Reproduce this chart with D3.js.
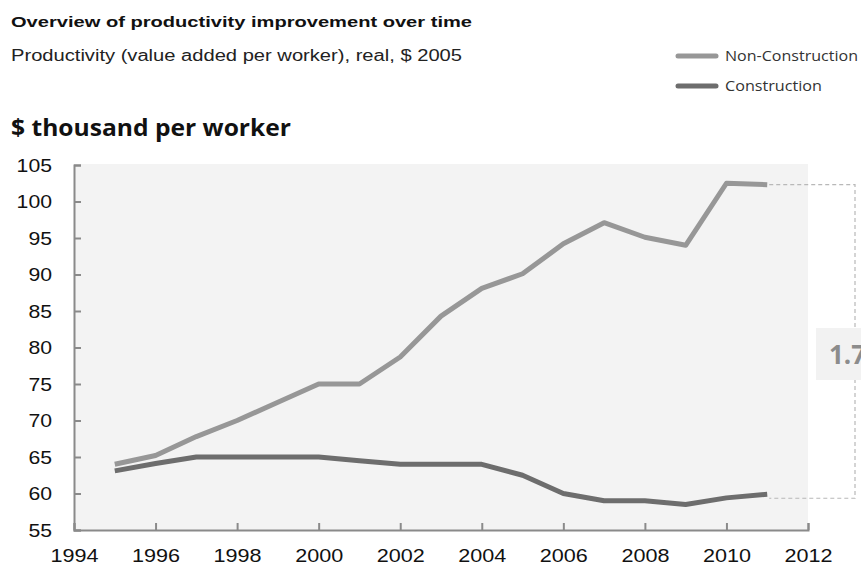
<!DOCTYPE html>
<html>
<head>
<meta charset="utf-8">
<script src="https://cdn.jsdelivr.net/npm/d3@7"></script>
<style>
  body { margin: 0; background: #fff; }
  svg { display: block; }
</style>
</head>
<body>
<div id="chart"></div>
<script>
// data
const years = [1995, 1996, 1997, 1998, 1999, 2000, 2001, 2002, 2003, 2004, 2005, 2006, 2007, 2008, 2009, 2010, 2011];
const nonConstruction = [64, 65.2, 67.8, 70, 72.5, 75, 75, 78.7, 84.3, 88.1, 90.1, 94.2, 97.1, 95.1, 94, 102.5, 102.3];
const construction = [63.1, 64.1, 65, 65, 65, 65, 64.5, 64, 64, 64, 62.5, 60, 59, 59, 58.5, 59.4, 59.9];
const xTicks = [1994, 1996, 1998, 2000, 2002, 2004, 2006, 2008, 2010, 2012];
const yTicks = [55, 60, 65, 70, 75, 80, 85, 90, 95, 100, 105];
const seriesNames = ["Non-Construction", "Construction"];
const ratioLabel = "1.7x";

const width = 861, height = 567;
const colors = {"Non-Construction": "#979797", "Construction": "#6d6d6d"};
const legendWidths = {"Non-Construction": 133, "Construction": 97};

const svg = d3.select("#chart").append("svg")
    .attr("width", width)
    .attr("height", height);

const x = d3.scaleLinear().domain([1994, 2012]).range([74, 808]);
const y = d3.scaleLinear().domain([55, 105]).range([530, 165]);

// titles (the original is a little stretched sideways, so fix their widths)
svg.append("text")
    .attr("x", 11).attr("y", 27)
    .attr("textLength", 461).attr("lengthAdjust", "spacingAndGlyphs")
    .style("font-family", "Liberation Sans, Arial, sans-serif")
    .style("font-size", "15px").style("font-weight", "bold")
    .attr("fill", "#111")
    .text("Overview of productivity improvement over time");
svg.append("text")
    .attr("x", 11).attr("y", 61)
    .attr("textLength", 451).attr("lengthAdjust", "spacingAndGlyphs")
    .style("font-family", "Liberation Sans, Arial, sans-serif")
    .style("font-size", "16px")
    .attr("fill", "#222")
    .text("Productivity (value added per worker), real, $ 2005");
svg.append("text")
    .attr("x", 11).attr("y", 136)
    .attr("textLength", 280).attr("lengthAdjust", "spacingAndGlyphs")
    .style("font-family", "Open Sans, sans-serif")
    .style("font-size", "24px").style("font-weight", "bold")
    .attr("fill", "#111")
    .text("$ thousand per worker");

// plot background
svg.append("rect")
    .attr("x", x(1994)).attr("y", y(105) - 1)
    .attr("width", x(2012) - x(1994)).attr("height", y(55) - y(105) + 1)
    .attr("fill", "#f3f3f3");

// axes
const yAxis = svg.append("g")
    .attr("transform", `translate(${x(1994)},0)`)
    .call(d3.axisLeft(y).tickValues(yTicks).tickSize(-7).tickPadding(22));
const xAxis = svg.append("g")
    .attr("transform", `translate(0,${y(55)})`)
    .call(d3.axisBottom(x).tickValues(xTicks).tickFormat(d3.format("d")).tickSize(-7).tickPadding(19));
[xAxis, yAxis].forEach(a => {
  a.selectAll("path, line").attr("stroke", "#8a8a8a").attr("stroke-width", 2);
  a.selectAll("text")
      .style("font-family", "Liberation Sans, Arial, sans-serif")
      .style("font-size", "19px")
      .attr("fill", "#111");
});
xAxis.selectAll("text").attr("textLength", 48).attr("lengthAdjust", "spacingAndGlyphs");
yAxis.selectAll("text").attr("textLength", d => String(d).length * 11.8).attr("lengthAdjust", "spacingAndGlyphs");

// dashed bracket comparing the last values
const last = years.length - 1;
const bx = 855;
svg.append("path")
    .attr("d", `M${x(years[last]) + 2},${y(nonConstruction[last])} H${bx} V${y(construction[last]) + 4} H${x(years[last]) + 2}`)
    .attr("fill", "none")
    .attr("stroke", "#b8b8b8")
    .attr("stroke-width", 1.2)
    .attr("stroke-dasharray", "4,3");
svg.append("rect")
    .attr("x", 816).attr("y", 328)
    .attr("width", 60).attr("height", 52)
    .attr("fill", "#f2f2f2");
svg.append("text")
    .attr("x", 829).attr("y", 364)
    .style("font-family", "Open Sans, sans-serif")
    .style("font-size", "26px").style("font-weight", "bold")
    .attr("fill", "#8c8c8c")
    .text(ratioLabel);

// lines
const line = d3.line()
    .x((d, i) => x(years[i]))
    .y(d => y(d));
[[nonConstruction, "Non-Construction"], [construction, "Construction"]].forEach(([vals, name]) => {
  svg.append("path")
      .datum(vals)
      .attr("d", line)
      .attr("fill", "none")
      .attr("stroke", colors[name])
      .attr("stroke-width", 5)
      .attr("stroke-linejoin", "round");
});

// legend
const legend = svg.append("g").attr("transform", "translate(678,56)");
seriesNames.forEach((name, i) => {
  const g = legend.append("g").attr("transform", `translate(0,${i * 30})`);
  g.append("line")
      .attr("x1", 0).attr("x2", 38)
      .attr("stroke", colors[name]).attr("stroke-width", 5)
      .attr("stroke-linecap", "round");
  g.append("text")
      .attr("x", 47).attr("y", 5)
      .attr("textLength", legendWidths[name]).attr("lengthAdjust", "spacingAndGlyphs")
      .style("font-family", "Open Sans, sans-serif")
      .style("font-size", "14px")
      .attr("fill", "#333")
      .text(name);
});
</script>
</body>
</html>
